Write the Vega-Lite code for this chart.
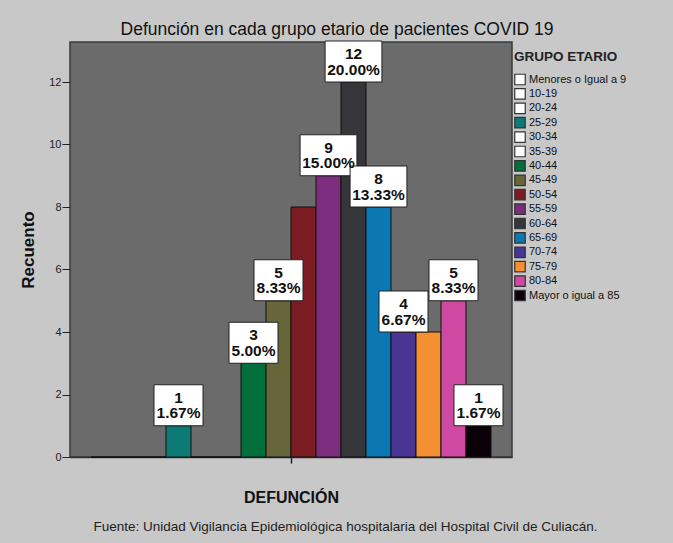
{
  "$schema": "https://vega.github.io/schema/vega-lite/v6.json",
  "width": 442,
  "height": 415,
  "autosize": {"type": "none"},
  "padding": {"left": 70, "top": 42, "right": 161, "bottom": 86},
  "background": "#c8c8c8",
  "config": {
    "font": "Liberation Sans",
    "view": {"fill": "#6b6b6b", "stroke": "#3a3a3a", "strokeWidth": 1.5}
  },
  "title": {
    "text": "Defunción en cada grupo etario de pacientes COVID 19",
    "font": "Liberation Sans",
    "fontSize": 17.5,
    "fontWeight": "normal",
    "color": "#111111",
    "anchor": "middle",
    "frame": "group",
    "dx": 46,
    "offset": 1
  },
  "data": {
    "values": [
      {"defuncion": "Defunción", "grupo": "Menores o Igual a 9", "n": 0, "porcentaje": 0},
      {"defuncion": "Defunción", "grupo": "10-19", "n": 0, "porcentaje": 0},
      {"defuncion": "Defunción", "grupo": "20-24", "n": 0, "porcentaje": 0},
      {"defuncion": "Defunción", "grupo": "25-29", "n": 1, "porcentaje": 0.016667},
      {"defuncion": "Defunción", "grupo": "30-34", "n": 0, "porcentaje": 0},
      {"defuncion": "Defunción", "grupo": "35-39", "n": 0, "porcentaje": 0},
      {"defuncion": "Defunción", "grupo": "40-44", "n": 3, "porcentaje": 0.05},
      {"defuncion": "Defunción", "grupo": "45-49", "n": 5, "porcentaje": 0.083333},
      {"defuncion": "Defunción", "grupo": "50-54", "n": 8, "porcentaje": 0.133333},
      {"defuncion": "Defunción", "grupo": "55-59", "n": 9, "porcentaje": 0.15},
      {"defuncion": "Defunción", "grupo": "60-64", "n": 12, "porcentaje": 0.2},
      {"defuncion": "Defunción", "grupo": "65-69", "n": 8, "porcentaje": 0.133333},
      {"defuncion": "Defunción", "grupo": "70-74", "n": 4, "porcentaje": 0.066667},
      {"defuncion": "Defunción", "grupo": "75-79", "n": 4, "porcentaje": 0.066667},
      {"defuncion": "Defunción", "grupo": "80-84", "n": 5, "porcentaje": 0.083333},
      {"defuncion": "Defunción", "grupo": "Mayor o igual a 85", "n": 1, "porcentaje": 0.016667}
    ]
  },
  "layer": [
    {
      "encoding": {
        "x": {
          "field": "defuncion",
          "type": "nominal",
          "scale": {"paddingInner": 0, "paddingOuter": 0.0525},
          "axis": {
            "title": "DEFUNCIÓN",
            "labels": false,
            "ticks": true,
            "tickSize": 6,
            "tickColor": "#222222",
            "tickWidth": 1.5,
            "domain": true,
            "domainColor": "#333333",
            "domainWidth": 1.5,
            "titleFontSize": 16,
            "titleFontWeight": "bold",
            "titleColor": "#111111",
            "titlePadding": 26
          }
        },
        "xOffset": {
          "field": "grupo",
          "type": "nominal",
          "scale": {
            "domain": ["Menores o Igual a 9", "10-19", "20-24", "25-29", "30-34", "35-39", "40-44", "45-49", "50-54", "55-59", "60-64", "65-69", "70-74", "75-79", "80-84", "Mayor o igual a 85"],
            "paddingInner": 0,
            "paddingOuter": 0
          }
        },
        "y": {
          "field": "n",
          "type": "quantitative",
          "scale": {"domain": [0, 13.28], "nice": false},
          "axis": {
            "title": "Recuento",
            "values": [0, 2, 4, 6, 8, 10, 12],
            "grid": false,
            "domain": false,
            "tickSize": 8,
            "tickColor": "#222222",
            "labelFontSize": 11,
            "labelColor": "#222222",
            "labelPadding": 1,
            "titleFontSize": 17,
            "titleFontWeight": "bold",
            "titleColor": "#111111",
            "titlePadding": 11
          }
        }
      },
      "layer": [
        {
          "mark": {"type": "bar", "stroke": "#111111", "strokeWidth": 1},
          "encoding": {
            "color": {
              "field": "grupo",
              "type": "nominal",
              "scale": {
                "domain": ["Menores o Igual a 9", "10-19", "20-24", "25-29", "30-34", "35-39", "40-44", "45-49", "50-54", "55-59", "60-64", "65-69", "70-74", "75-79", "80-84", "Mayor o igual a 85"],
                "range": ["#ffffff", "#ffffff", "#ffffff", "#0e7a74", "#ffffff", "#ffffff", "#006f3c", "#66663a", "#7b1c22", "#7c2d7e", "#35353a", "#0b77b3", "#4a3595", "#f48f32", "#cf49a3", "#0b0209"]
              },
              "legend": {
                "orient": "none",
                "legendX": 444,
                "legendY": 8,
                "title": "GRUPO ETARIO",
                "titleFontSize": 13.5,
                "titleFontWeight": "bold",
                "titleColor": "#222222",
                "titlePadding": 10,
                "symbolType": "square",
                "symbolSize": 110,
                "symbolStrokeColor": "#333333",
                "symbolStrokeWidth": 1.2,
                "symbolOpacity": 1,
                "labelFontSize": 11,
                "labelColor": "#111111",
                "labelOffset": 3,
                "labelLimit": 200,
                "rowPadding": -1.6,
                "padding": 0
              }
            }
          }
        },
        {
          "transform": [{"filter": "datum.n > 0 && datum.grupo !== '50-54' && datum.grupo !== '75-79'"}],
          "mark": {"type": "point", "filled": true, "fill": "white", "stroke": "#222222", "strokeWidth": 1, "opacity": 1, "size": 2401},
          "encoding": {
            "shape": {
              "condition": {"test": "datum.porcentaje >= 0.1", "value": "M-1.16,-1.673L1.16,-1.673L1.16,0L-1.16,0Z"},
              "value": "M-1,-1.673L1,-1.673L1,0L-1,0Z"
            }
          }
        },
        {
          "transform": [{"filter": "datum.n > 0 && datum.grupo !== '50-54' && datum.grupo !== '75-79'"}],
          "mark": {"type": "text", "dy": -28, "baseline": "middle", "fontSize": 15.5, "fontWeight": "bold", "fill": "#111111"},
          "encoding": {"text": {"field": "n", "type": "quantitative"}}
        },
        {
          "transform": [{"filter": "datum.n > 0 && datum.grupo !== '50-54' && datum.grupo !== '75-79'"}],
          "mark": {"type": "text", "dy": -12.5, "baseline": "middle", "fontSize": 15.5, "fontWeight": "bold", "fill": "#111111"},
          "encoding": {"text": {"field": "porcentaje", "type": "quantitative", "format": ".2%"}}
        }
      ]
    },
    {
      "mark": {"type": "rule", "opacity": 0},
      "encoding": {
        "x": {
          "field": "defuncion",
          "type": "nominal",
          "axis": {
            "orient": "bottom",
            "title": "Fuente: Unidad Vigilancia Epidemiológica hospitalaria del Hospital Civil de Culiacán.",
            "labels": false,
            "ticks": false,
            "domain": false,
            "titleFontSize": 13.5,
            "titleFontWeight": "normal",
            "titleColor": "#222222",
            "titlePadding": 62,
            "titleX": 275
          }
        }
      }
    }
  ],
  "resolve": {"scale": {"x": "independent"}}
}
